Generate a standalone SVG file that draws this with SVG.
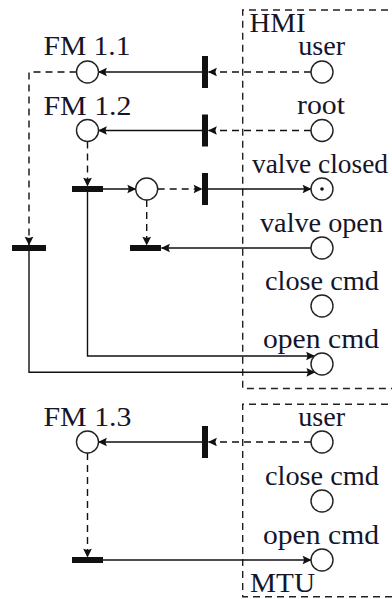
<svg xmlns="http://www.w3.org/2000/svg" width="392" height="599" viewBox="0 0 392 599">
<defs>
<marker id="arr" markerUnits="userSpaceOnUse" markerWidth="11" markerHeight="10" viewBox="-8.5 -4.5 9.5 9" refX="0" refY="0" orient="auto">
<path d="M0.5,0 L-7.5,-3.9 L-6.2,0 L-7.5,3.9 Z" fill="#111"/>
</marker>
<style>
text{font-family:"Liberation Serif","Times New Roman",serif;font-size:27px;fill:#15152a}
.lbl{text-anchor:middle}
.place{fill:#fff;stroke:#222;stroke-width:1.4}
.bar{fill:#111}
.box{fill:none;stroke:#222;stroke-width:1.4;stroke-dasharray:7 5}
.c{fill:none;stroke:#111;stroke-width:1.4;marker-end:url(#arr)}
.d{stroke-dasharray:7 5}
</style>
</defs>
<g id="hmi-box"><path class="box" d="M400,10 H242.7 V388.5 H400"/><text x="249.5" y="32" textLength="56" lengthAdjust="spacingAndGlyphs">HMI</text></g>
<g id="mtu-box"><path class="box" d="M400,404.3 H242.7 V596.7 H400"/><text x="250" y="591.7" textLength="65" lengthAdjust="spacingAndGlyphs">MTU</text></g>

<g id="connectors">
<path class="c d" d="M311,72 H208.5"/>
<path class="c" d="M202,72 H98.5"/>
<path class="c d" d="M311,130.5 H208.5"/>
<path class="c" d="M202,130.5 H98.5"/>
<path class="c d" d="M76.5,72 H29 V245"/>
<path class="c d" d="M87.5,141.5 V186"/>
<path class="c" d="M103,189 H135.7"/>
<path class="c d" d="M157.7,189 H202"/>
<path class="c" d="M208,189 H311"/>
<path class="c d" d="M146.7,200 V245"/>
<path class="c" d="M311,248 H161.5"/>
<path class="c" d="M87.5,192 V356 H314.5"/>
<path class="c" d="M29,251 V372.3 H314.8"/>
<path class="c d" d="M311,442 H208.5"/>
<path class="c" d="M202,442 H98.5"/>
<path class="c d" d="M87.5,453 V557"/>
<path class="c" d="M103,560 H311"/>
</g>

<g id="fm11"><circle class="place" cx="87.5" cy="72" r="11"/><text class="lbl" x="87" y="55" textLength="87" lengthAdjust="spacingAndGlyphs">FM 1.1</text></g>
<g id="fm12"><circle class="place" cx="87.5" cy="130.5" r="11"/><text class="lbl" x="87.5" y="114.5" textLength="88" lengthAdjust="spacingAndGlyphs">FM 1.2</text></g>
<g id="fm13"><circle class="place" cx="87.5" cy="442" r="11"/><text class="lbl" x="87.5" y="425.5" textLength="88" lengthAdjust="spacingAndGlyphs">FM 1.3</text></g>
<g id="mid-place"><circle class="place" cx="146.7" cy="189" r="11"/></g>

<g id="t1"><rect class="bar" x="202" y="56" width="6" height="32"/></g>
<g id="t2"><rect class="bar" x="202" y="114.5" width="6" height="32"/></g>
<g id="t3"><rect class="bar" x="202" y="173" width="6" height="32"/></g>
<g id="t4"><rect class="bar" x="72" y="186" width="31" height="6"/></g>
<g id="t5"><rect class="bar" x="130" y="245" width="31" height="6"/></g>
<g id="t6"><rect class="bar" x="12" y="245" width="34" height="6"/></g>
<g id="t7"><rect class="bar" x="202" y="426" width="6" height="32"/></g>
<g id="t8"><rect class="bar" x="72" y="557" width="31" height="6"/></g>

<g id="hmi-user"><circle class="place" cx="322" cy="72" r="11"/><text class="lbl" x="321.7" y="55" textLength="47" lengthAdjust="spacingAndGlyphs">user</text></g>
<g id="hmi-root"><circle class="place" cx="322" cy="130.5" r="11"/><text class="lbl" x="321" y="114" textLength="48" lengthAdjust="spacingAndGlyphs">root</text></g>
<g id="hmi-valve-closed"><circle class="place" cx="322" cy="189" r="11"/><circle cx="322" cy="189" r="1.8" fill="#111"/><text class="lbl" x="320" y="172.5" textLength="136" lengthAdjust="spacingAndGlyphs">valve closed</text></g>
<g id="hmi-valve-open"><circle class="place" cx="322" cy="248" r="11"/><text class="lbl" x="321.5" y="231.5" textLength="123" lengthAdjust="spacingAndGlyphs">valve open</text></g>
<g id="hmi-close-cmd"><circle class="place" cx="322" cy="306" r="11"/><text class="lbl" x="322" y="289.5" textLength="114" lengthAdjust="spacingAndGlyphs">close cmd</text></g>
<g id="hmi-open-cmd"><circle class="place" cx="322" cy="364" r="11"/><text class="lbl" x="321" y="347.5" textLength="116" lengthAdjust="spacingAndGlyphs">open cmd</text></g>

<g id="mtu-user"><circle class="place" cx="322" cy="442" r="11"/><text class="lbl" x="321.7" y="425.5" textLength="47" lengthAdjust="spacingAndGlyphs">user</text></g>
<g id="mtu-close-cmd"><circle class="place" cx="322" cy="501" r="11"/><text class="lbl" x="322" y="484.5" textLength="114" lengthAdjust="spacingAndGlyphs">close cmd</text></g>
<g id="mtu-open-cmd"><circle class="place" cx="322" cy="560" r="11"/><text class="lbl" x="321" y="543.5" textLength="116" lengthAdjust="spacingAndGlyphs">open cmd</text></g>
</svg>
